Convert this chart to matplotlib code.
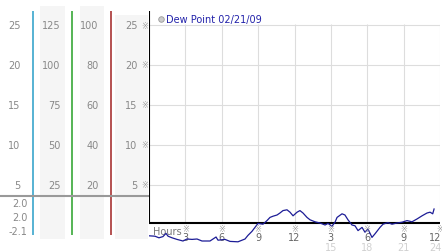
import matplotlib
matplotlib.use("Agg")
import matplotlib.pyplot as plt

# dew point trace, hours since midnight vs value
hours = [0.0, 0.49, 0.82, 1.15, 1.40, 1.57, 1.90, 2.31, 2.56, 2.80, 3.13, 3.55,
         3.96, 4.37, 5.03, 5.28, 5.53, 5.69, 6.27, 6.68, 7.34, 7.67, 7.92, 8.16,
         8.49, 8.74, 8.99, 9.40, 9.73, 9.98, 10.23, 10.56, 10.80, 11.05, 11.38,
         11.63, 11.88, 12.21, 12.45, 12.70, 13.03, 13.28, 13.69, 14.10, 14.52,
         14.76, 15.09, 15.34, 15.51, 15.92, 16.16, 16.41, 16.74, 16.99, 17.24,
         17.57, 17.81, 18.06, 18.39, 18.64, 19.05, 19.30, 19.71, 20.04, 20.45,
         20.87, 21.28, 21.69, 22.10, 22.52, 22.93, 23.18, 23.40, 23.51]
dew = [-1.35, -1.4, -1.6, -1.45, -1.05, -1.4, -1.6, -1.8, -1.9, -2.0, -1.75, -1.8,
       -1.75, -2.0, -2.0, -1.75, -1.5, -1.9, -1.8, -2.05, -2.1, -1.9, -1.75, -1.3,
       -0.8, -0.3, 0.2, 0.1, 0.55, 0.95, 1.1, 1.25, 1.5, 1.8, 1.9,
       1.6, 1.15, 1.6, 1.8, 1.5, 0.95, 0.65, 0.4, 0.25, 0.0,
       0.2, -0.15, 0.35, 0.95, 1.4, 1.25, 0.65, 0.0, -0.1, -0.7,
       -0.3, -0.9, -0.5, -1.55, -1.1, -0.3, 0.1, 0.3, 0.1, 0.25,
       0.35, 0.55, 0.4, 0.75, 1.15, 1.5, 1.6, 1.4, 2.0]

y_ticks = [5, 10, 15, 20, 25]
scale_a = ["5", "10", "15", "20", "25"]
scale_b = ["25", "50", "75", "100", "125"]
scale_c = ["20", "40", "60", "80", "100"]
scale_d = ["5", "10", "15", "20", "25"]
x_ticks = [3, 6, 9, 12, 15, 18, 21, 24]
x_labels = ["3", "6", "9", "12", "3", "6", "9", "12"]
x_labels_24 = {15: "15", 18: "18", 21: "21", 24: "24"}
stats = ["2.0", "2.0", "-2.1"]
legend_label = "Dew Point 02/21/09"

W, H = 442, 253


def py(px):
    # pixel row -> value on the shared y scale (8 px per unit, zero at row 226)
    return (226 - px) / 8.0


ylim = (py(H), py(0))
fig = plt.figure(figsize=(W / 100, H / 100), dpi=100)

# ---- left scale panel
lax = fig.add_axes([0, 0, 149 / W, 1])
lax.set_xlim(0, 149)
lax.set_ylim(*ylim)
lax.axis("off")

for x0, x1, top in [(40, 65, 7), (80, 104, 7), (115, 148, 16)]:
    lax.fill_between([x0, x1], py(240), py(top), color="#f5f5f5", lw=0, zorder=0)

for x, c in [(33, "#3aa6cc"), (72, "#38a838"), (111, "#a83434")]:
    lax.vlines(x, py(236), py(12), color=c, lw=1.2, zorder=2)

mark = dict(fontsize=6, color="#999999", ha="center", va="center", zorder=5)
lk = dict(fontsize=7, color="#888888", ha="right", va="center")
for t, a, b, c, d in zip(y_ticks, scale_a, scale_b, scale_c, scale_d):
    lax.text(20.5, t, a, **lk)
    lax.text(60.5, t, b, **lk)
    lax.text(98.5, t, c, **lk)
    lax.text(137.5, t, d, **lk)
    lax.text(145, t, "\u203b", **mark)

lax.hlines(py(197), 0, 149, color="#999999", lw=1.5, zorder=3)
for row, s in zip([204, 218, 232], stats):
    lax.text(27.5, py(row), s, **lk)

# ---- main chart
ax = fig.add_axes([149 / W, 0, 291 / W, 1])
ax.set_xlim(0, 24)
ax.set_ylim(*ylim)
ax.axis("off")

base = py(224)
ax.hlines(y_ticks, 0, 24, color="#dddddd", lw=0.8, zorder=1)
ax.vlines(x_ticks, base, py(25), color="#dddddd", lw=0.8, zorder=1)
ax.vlines(0, base, py(12), color="black", lw=1.5, zorder=3)
ax.hlines(base, 0, 24, color="black", lw=1.5, zorder=3)

for t, lab in zip(x_ticks, x_labels):
    # keep the last labels inside the picture
    xt, ha = (24.15, "right") if t == 24 else (t, "center")
    ax.text(t, py(230), "\u203b", **mark)
    ax.text(xt, py(238), lab, fontsize=7, color="#666666", ha=ha, va="center",
            zorder=2)
    if t in x_labels_24:
        ax.text(xt, py(248), x_labels_24[t], fontsize=7, color="#d0d0d0",
                ha=ha, va="center", zorder=2)
ax.text(0.33, py(232), "Hours", fontsize=7, color="#777777", ha="left", va="center")

ax.plot(hours, dew, color="#1c1c96", lw=0.9, zorder=4)

ax.plot([1.0], [py(20)], "o", ms=4, mfc="#cccccc", mec="#999999", mew=0.6)
ax.text(1.4, py(20), legend_label, fontsize=7, color="#2222aa", ha="left", va="center")

fig.savefig("out.png", dpi=100)
